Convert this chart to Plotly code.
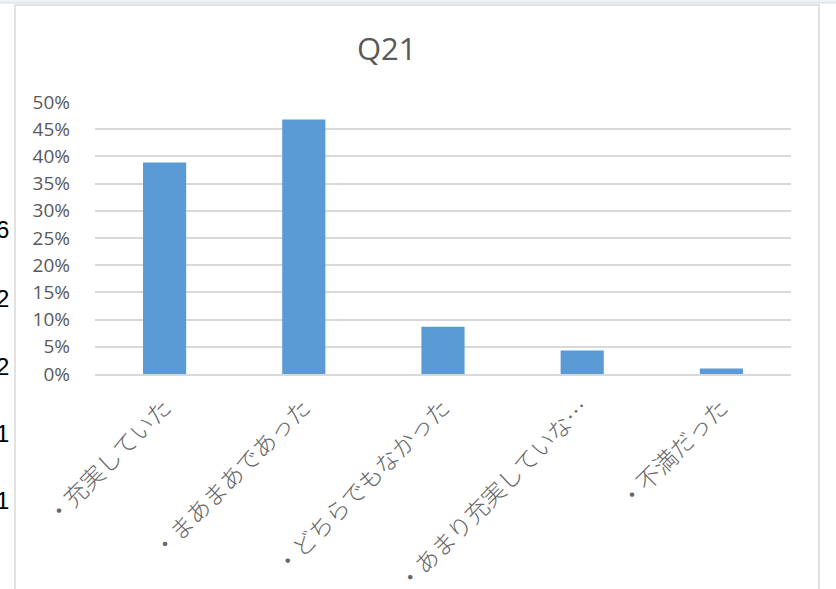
import plotly.graph_objects as go

categories = ["・充実していた", "・まあまあであった", "・どちらでもなかった", "・あまり充実していな…", "・不満だった"]
values = [0.389, 0.468, 0.087, 0.043, 0.010]
title_text = "Q21"
stray_labels = ["6", "2", "2", "1", "1"]
stray_label_y = [229, 298, 366, 433, 500]  # pixel rows of clipped neighbour text

W, H = 836, 589
L, R, T, B = 95, 45, 102, 215
pw, ph = W - L - R, H - T - B

def px_x(x):
    return (x - L) / pw

def px_y(y):
    return (H - B - y) / ph

fig = go.Figure()
fig.add_trace(go.Bar(
    x=categories, y=values,
    marker=dict(color="#5b9bd5", line=dict(width=0)),
    hoverinfo="x+y",
))

shapes = [
    dict(type="rect", xref="paper", yref="paper",
         x0=px_x(15), x1=px_x(819), y0=px_y(600), y1=px_y(5),
         line=dict(color="#d9d9d9", width=1.5), layer="below"),
    dict(type="rect", xref="paper", yref="paper",
         x0=px_x(-5), x1=px_x(841), y0=px_y(3), y1=px_y(-5),
         line=dict(color="#d6dbe4", width=1), fillcolor="#eef1f6", layer="below"),
]

annotations = []
for t, yy in zip(stray_labels, stray_label_y):
    annotations.append(dict(
        text=t, xref="paper", yref="paper", x=px_x(11), y=px_y(yy),
        xanchor="right", yanchor="middle", showarrow=False,
        font=dict(family="Arial", size=24, color="#000000"),
    ))

fig.update_layout(
    width=W, height=H, autosize=False,
    margin=dict(l=L, r=R, t=T, b=B, pad=0, autoexpand=False),
    paper_bgcolor="white", plot_bgcolor="white",
    title=dict(text=title_text, x=px_x(417), xanchor="center",
               y=1 - 49 / H, yanchor="middle",
               font=dict(family="Open Sans", size=31, color="#595959")),
    bargap=0.69,
    showlegend=False,
    shapes=shapes,
    annotations=annotations,
    font=dict(family="Open Sans", color="#595959"),
)
fig.update_yaxes(
    range=[0, 0.5], dtick=0.05, tick0=0, tickformat=".0%",
    showgrid=True, gridcolor="#d9d9d9", gridwidth=1.5,
    zeroline=False, showline=False, ticks="", automargin=False,
    ticklabelstandoff=24,
    tickfont=dict(family="Open Sans", size=19, color="#595959"),
)
fig.update_xaxes(
    showline=True, linecolor="#d9d9d9", linewidth=1.5,
    ticks="", tickangle=-45, automargin=False,
    tickfont=dict(family="Noto Sans CJK JP", size=23.5, color="#666666", weight=300),
    ticklabelstandoff=9,
)

fig.write_html(
    "out.html",
    config={"responsive": False, "displayModeBar": False},
    default_width="836px", default_height="589px",
    post_script="document.body.style.margin='0px';document.body.style.overflow='hidden';",
)
